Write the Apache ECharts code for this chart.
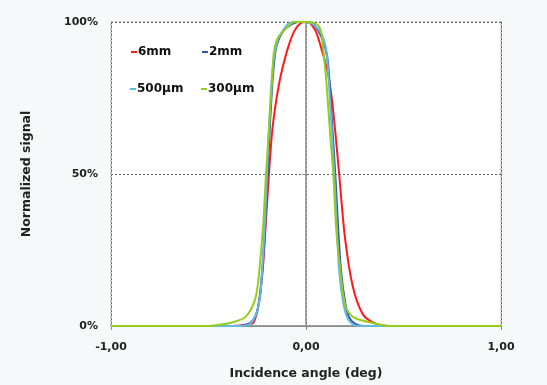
<!DOCTYPE html>
<html>
<head>
<meta charset="utf-8">
<script src="https://cdn.jsdelivr.net/npm/echarts@6/dist/echarts.min.js"></script>
<style>
html,body{margin:0;padding:0;background:#f7f8fa;}
#c{width:547px;height:385px;}
</style>
</head>
<body>
<div id="c"></div>
<script>
// Series names
const seriesNames = ['6mm', '2mm', '500µm', '300µm'];
const seriesColors = ['#ff1a1a', '#2c5aa8', '#62b9e6', '#96cc1e'];

// 6mm (red)
const x6mm = [-1, -0.6, -0.42, -0.34, -0.3, -0.27, -0.24, -0.22, -0.205, -0.19, -0.175, -0.16, -0.14, -0.12, -0.09, -0.06, -0.03, 0, 0.02, 0.05, 0.08, 0.11, 0.13, 0.15, 0.17, 0.2, 0.24, 0.29, 0.34, 0.42, 0.6, 1];
const y6mm = [0, 0, 0, 0.2, 0.6, 1, 8, 20, 35, 50, 63, 71, 79, 85, 92, 97, 99.5, 100, 99.7, 97, 91, 84, 76, 64, 50, 29, 13, 4, 1.3, 0, 0, 0];

// 2mm (blue)
const x2mm = [-1, -0.5, -0.34, -0.3, -0.27, -0.25, -0.235, -0.22, -0.205, -0.195, -0.185, -0.17, -0.155, -0.135, -0.11, -0.08, -0.04, 0, 0.04, 0.08, 0.11, 0.13, 0.15, 0.165, 0.18, 0.2, 0.22, 0.25, 0.3, 1];
const y2mm = [0, 0, 0, 0.5, 2, 5, 11, 22, 38, 52, 66, 82, 91, 95, 97.5, 99, 100, 100, 99, 95, 88, 70, 50, 32, 18, 8, 3, 0.8, 0, 0];

// 500µm (light blue)
const x500 = [-1, -0.5, -0.33, -0.29, -0.27, -0.25, -0.235, -0.225, -0.21, -0.2, -0.19, -0.175, -0.16, -0.14, -0.12, -0.09, -0.05, 0, 0.04, 0.08, 0.105, 0.125, 0.145, 0.16, 0.17, 0.19, 0.21, 0.24, 0.28, 1];
const y500 = [0, 0, 0, 0.5, 2, 5, 10, 18, 35, 50, 65, 82, 90, 95, 97, 99.5, 100, 100, 99, 96, 90, 72, 50, 30, 18, 8, 3, 0.5, 0, 0];

// 300µm (yellow-green)
const x300 = [-1, -0.7, -0.5, -0.45, -0.39, -0.31, -0.26, -0.24, -0.22, -0.205, -0.19, -0.175, -0.165, -0.15, -0.13, -0.1, -0.06, 0, 0.06, 0.08, 0.09, 0.105, 0.125, 0.14, 0.155, 0.17, 0.2, 0.24, 0.34, 0.43, 0.6, 1];
const y300 = [0, 0, 0, 0.4, 1, 3, 9, 18, 33, 50, 65, 80, 90, 94, 96, 98, 100, 100, 99, 96, 90, 80, 62, 50, 32, 22, 7, 3, 1, 0, 0, 0];

// Axis ticks
const xTicks = [-1, 0, 1];
const yTicks = [0, 50, 100];

const allX = [x6mm, x2mm, x500, x300];
const allY = [y6mm, y2mm, y500, y300];

const chart = echarts.init(document.getElementById('c'), null, {renderer: 'canvas'});
const font = '"DejaVu Sans", Verdana, sans-serif';

const series = seriesNames.map((n, i) => ({
  name: n,
  type: 'line',
  data: allX[i].map((x, j) => [x, allY[i][j]]),
  showSymbol: false,
  smooth: 0.3,
  lineStyle: {color: seriesColors[i], width: 2},
  itemStyle: {color: seriesColors[i]},
  z: 3 + i
}));

// legend grid: 2 columns x 2 rows
const legendPos = [[131, 46], [202, 46], [130, 83], [201, 83]];
const legends = seriesNames.map((n, i) => ({
  data: [n],
  left: legendPos[i][0],
  top: legendPos[i][1],
  padding: 0,
  icon: 'rect',
  itemWidth: 6,
  itemHeight: 2,
  selectedMode: false,
  textStyle: {fontFamily: font, fontWeight: 'bold', fontSize: 12, color: '#111', padding: [0, 0, 0, -4]}
}));

function fmtX(v) {
  const r = Math.round(v * 100) / 100;
  const hit = xTicks.some(t => Math.abs(t - r) < 1e-9);
  if (!hit) return '';
  const a = Math.abs(r) < 1e-9 ? 0 : r;
  return a.toFixed(2).replace('.', ',');
}

chart.setOption({
  backgroundColor: '#f7f8fa',
  animation: false,
  legend: legends,
  grid: {
    left: 111, right: 46, top: 22, bottom: 55,
    show: true,
    backgroundColor: '#ffffff',
    borderColor: '#888',
    borderWidth: 1,
    borderType: [2, 2]
  },
  xAxis: {
    type: 'value',
    min: -1, max: 1, interval: 1,
    name: 'Incidence angle (deg)',
    nameLocation: 'middle',
    nameGap: 41,
    nameTextStyle: {fontFamily: font, fontWeight: 'bold', fontSize: 12.5, color: '#222'},
    axisLine: {show: true, onZero: false, lineStyle: {color: '#888', width: 1.5}},
    axisTick: {show: true, length: 4, lineStyle: {color: '#888'}},
    axisLabel: {
      margin: 16,
      fontFamily: font, fontWeight: 'bold', fontSize: 11, color: '#222',
      formatter: fmtX
    },
    splitLine: {show: true, lineStyle: {color: '#666', type: [2, 2], width: 1}}
  },
  yAxis: {
    type: 'value',
    min: 0, max: 100, interval: 50,
    name: 'Normalized signal',
    nameLocation: 'middle',
    nameGap: 78,
    nameRotate: 90,
    nameTextStyle: {fontFamily: font, fontWeight: 'bold', fontSize: 12.5, color: '#222'},
    axisLine: {show: true, lineStyle: {color: '#888', width: 1.5}},
    axisTick: {show: true, length: 4, lineStyle: {color: '#888'}},
    axisLabel: {
      margin: 13,
      fontFamily: font, fontWeight: 'bold', fontSize: 11, color: '#222',
      formatter: v => (yTicks.includes(v) ? v + '%' : '')
    },
    splitLine: {show: true, lineStyle: {color: '#666', type: [2, 2], width: 1}}
  },
  series: series
});
</script>
</body>
</html>
